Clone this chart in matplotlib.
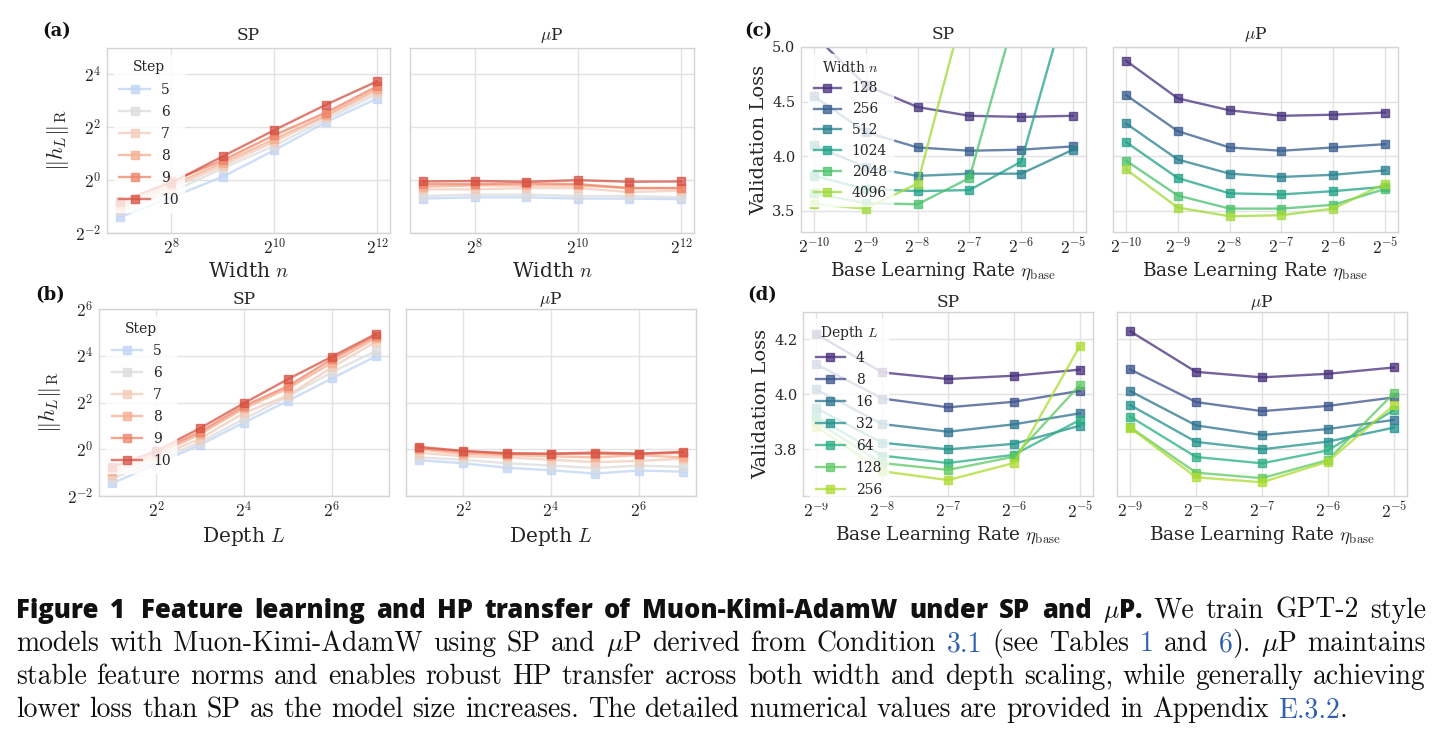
import numpy as np
import matplotlib
matplotlib.use("Agg")
import matplotlib.pyplot as plt
from matplotlib.ticker import FixedLocator, FuncFormatter

plt.rcParams.update({
    "font.family": "serif",
    "font.serif": ["DejaVu Serif"],
    "mathtext.fontset": "cm",
    "axes.formatter.use_mathtext": True,
})

W, H = 1442, 738

# ---------------- data ----------------
steps = ["5", "6", "7", "8", "9", "10"]
widths = [128, 256, 512, 1024, 2048, 4096]
depths = [2, 4, 8, 16, 32, 64, 128]
width_labels = ["128", "256", "512", "1024", "2048", "4096"]
depth_labels = ["4", "8", "16", "32", "64", "128", "256"]
lr_width = [2**-10, 2**-9, 2**-8, 2**-7, 2**-6, 2**-5]
lr_depth = [2**-9, 2**-8, 2**-7, 2**-6, 2**-5]

# (a) feature norm vs width, rows = steps 5..10
norm_width_sp = [
    [0.379, 0.637, 1.094, 2.188, 4.56, 8.51],
    [0.451, 0.732, 1.366, 2.46, 4.92, 9.51],
    [0.483, 0.812, 1.464, 2.73, 5.28, 10.2],
    [0.518, 0.871, 1.569, 2.93, 5.46, 10.93],
    [0.555, 0.966, 1.682, 3.25, 5.86, 11.71],
    [0.574, 0.933, 1.866, 3.71, 7.21, 13.36],
]
norm_width_mup = [
    [0.616, 0.637, 0.637, 0.616, 0.616, 0.607],
    [0.660, 0.683, 0.683, 0.660, 0.660, 0.637],
    [0.785, 0.785, 0.812, 0.812, 0.732, 0.758],
    [0.841, 0.871, 0.871, 0.871, 0.812, 0.812],
    [0.901, 0.901, 0.920, 0.901, 0.812, 0.812],
    [0.966, 0.979, 0.959, 1.000, 0.959, 0.966],
]
# (b) feature norm vs depth
norm_depth_sp = [
    [0.364, 0.642, 1.141, 2.204, 4.20, 8.17, 15.67],
    [0.420, 0.707, 1.231, 2.462, 4.757, 9.85, 18.38],
    [0.467, 0.785, 1.366, 2.928, 4.925, 11.31, 24.25],
    [0.518, 0.841, 1.569, 3.364, 6.063, 13.0, 26.9],
    [0.574, 0.901, 1.682, 3.605, 6.498, 14.42, 28.84],
    [0.595, 0.953, 1.866, 3.918, 8.0, 15.56, 30.48],
]
norm_depth_mup = [
    [0.722, 0.660, 0.578, 0.536, 0.486, 0.532, 0.514],
    [0.785, 0.732, 0.660, 0.616, 0.574, 0.616, 0.595],
    [0.901, 0.812, 0.785, 0.732, 0.683, 0.707, 0.758],
    [1.000, 0.871, 0.841, 0.812, 0.785, 0.841, 0.785],
    [1.035, 0.933, 0.871, 0.871, 0.871, 0.871, 0.901],
    [1.072, 0.953, 0.889, 0.877, 0.908, 0.877, 0.927],
]
# (c) validation loss vs LR, rows = widths
loss_width_sp = [
    [5.11, 4.65, 4.45, 4.37, 4.36, 4.37],
    [4.55, 4.22, 4.08, 4.05, 4.06, 4.09],
    [4.10, 3.90, 3.82, 3.84, 3.84, 4.06],
    [3.82, 3.70, 3.68, 3.69, 3.95, 5.62],
    [3.66, 3.57, 3.56, 3.80, 5.49, 7.20],
    [3.56, 3.52, 3.75, 5.55, 7.40, 9.00],
]
loss_width_mup = [
    [4.875, 4.53, 4.42, 4.37, 4.38, 4.40],
    [4.56, 4.23, 4.08, 4.05, 4.08, 4.11],
    [4.30, 3.97, 3.84, 3.81, 3.83, 3.87],
    [4.13, 3.80, 3.66, 3.65, 3.68, 3.72],
    [3.96, 3.64, 3.52, 3.52, 3.555, 3.70],
    [3.88, 3.53, 3.45, 3.46, 3.52, 3.75],
]
# (d) validation loss vs LR, rows = depths
loss_depth_sp = [
    [4.22, 4.08, 4.056, 4.068, 4.09],
    [4.11, 3.985, 3.953, 3.973, 4.013],
    [4.018, 3.892, 3.864, 3.891, 3.931],
    [3.95, 3.824, 3.80, 3.82, 3.886],
    [3.92, 3.777, 3.75, 3.78, 3.907],
    [3.90, 3.75, 3.725, 3.773, 4.034],
    [3.883, 3.72, 3.688, 3.75, 4.176],
]
loss_depth_mup = [
    [4.23, 4.082, 4.062, 4.075, 4.098],
    [4.091, 3.972, 3.939, 3.958, 3.989],
    [4.012, 3.887, 3.852, 3.874, 3.907],
    [3.961, 3.827, 3.80, 3.828, 3.879],
    [3.919, 3.772, 3.749, 3.796, 3.943],
    [3.88, 3.715, 3.695, 3.761, 4.004],
    [3.878, 3.698, 3.68, 3.755, 3.961],
]

# ---------------- styling ----------------
step_colors = plt.cm.coolwarm(np.linspace(0.4, 0.9, 6))
width_colors = plt.cm.viridis(np.linspace(0, 1, 8)[1:-1])
depth_colors = plt.cm.viridis(np.linspace(0, 1, 9)[1:-1])
TXT = "#262626"
POW_FS = 12.5
LIN_FS = 10.5
LABEL_AB = 14.5
LABEL_CD = 13.3
NORM_FS = 16
TITLE_FS = 12.3
LEG_FS = 10

fig = plt.figure(figsize=(W / 100, H / 100), dpi=100)
fig.patch.set_facecolor("white")


def add_ax(x0, y0, x1, y1, sharey=None):
    ax = fig.add_axes([x0 / W, 1 - y1 / H, (x1 - x0) / W, (y1 - y0) / H], sharey=sharey)
    ax.set_facecolor("white")
    for s in ax.spines.values():
        s.set_color("#d4d4d4")
        s.set_linewidth(1.0)
    ax.grid(True, color="#e2e2e2", lw=1.0)
    ax.set_axisbelow(True)
    ax.tick_params(length=0, colors=TXT, pad=4)
    return ax


def plot_series(ax, x, ys, labels, colors):
    for y, lab, c in zip(ys, labels, colors):
        ax.plot(x, y, marker="s", ms=5.8, mew=1.0, lw=1.7, color=c, alpha=0.75, label=lab)


pow2_fmt = FuncFormatter(lambda v, _: r"$2^{%d}$" % int(round(np.log2(v))))


def set_pow2(ax, which, exps):
    axis = ax.xaxis if which == "x" else ax.yaxis
    axis.set_major_locator(FixedLocator([2.0 ** e for e in exps]))
    axis.set_major_formatter(pow2_fmt)
    axis.set_minor_locator(FixedLocator([]))
    ax.tick_params(axis=which, labelsize=POW_FS)


def set_lin(ax, vals):
    ax.yaxis.set_major_locator(FixedLocator(vals))
    ax.yaxis.set_major_formatter(FuncFormatter(lambda v, _: "%.1f" % v))
    ax.tick_params(axis="y", labelsize=LIN_FS)


def legend(ax, title, spacing, hl):
    lg = ax.legend(title=title, loc="upper left", fontsize=LEG_FS, title_fontsize=LEG_FS,
                   frameon=True, framealpha=0.8, edgecolor="white", facecolor="white",
                   labelspacing=spacing, handlelength=hl, handletextpad=0.8,
                   borderpad=0.4, borderaxespad=0.5)
    for t in lg.get_texts():
        t.set_color(TXT)
    lg.get_title().set_color(TXT)
    return lg


norm_label = r"$\Vert h_L\Vert_{\mathrm{R}}$"
lr_label = r"Base Learning Rate $\eta_{\mathrm{base}}$"

# ---- (a) ----
a1 = add_ax(107, 48, 390, 233)
a2 = add_ax(410, 48, 694, 233, sharey=a1)
for ax, data in ((a1, norm_width_sp), (a2, norm_width_mup)):
    ax.set_xscale("log", base=2)
    ax.set_yscale("log", base=2)
    plot_series(ax, widths, data, steps, step_colors)
    set_pow2(ax, "x", [8, 10, 12])
    set_pow2(ax, "y", [-2, 0, 2, 4])
    ax.set_xlim(2 ** 6.75, 2 ** 12.25)
    ax.set_ylim(2 ** -2, 2 ** 5)
    ax.set_xlabel(r"Width $n$", fontsize=LABEL_AB, color=TXT, labelpad=2)
a1.set_title("SP", fontsize=TITLE_FS, color=TXT, pad=6)
a2.set_title(r"$\mu$P", fontsize=TITLE_FS, color=TXT, pad=6)
a1.set_ylabel(norm_label, fontsize=NORM_FS, color=TXT, labelpad=3)
a2.tick_params(labelleft=False)
legend(a1, "Step", 0.58, 2.2)

# ---- (b) ----
b1 = add_ax(99, 309, 389, 496)
b2 = add_ax(406, 309, 696, 496, sharey=b1)
for ax, data in ((b1, norm_depth_sp), (b2, norm_depth_mup)):
    ax.set_xscale("log", base=2)
    ax.set_yscale("log", base=2)
    plot_series(ax, depths, data, steps, step_colors)
    set_pow2(ax, "x", [2, 4, 6])
    set_pow2(ax, "y", [-2, 0, 2, 4, 6])
    ax.set_xlim(2 ** 0.7, 2 ** 7.3)
    ax.set_ylim(2 ** -2, 2 ** 6)
    ax.set_xlabel(r"Depth $L$", fontsize=LABEL_AB, color=TXT, labelpad=2)
b1.set_title("SP", fontsize=TITLE_FS, color=TXT, pad=3.5)
b2.set_title(r"$\mu$P", fontsize=TITLE_FS, color=TXT, pad=3.5)
b1.set_ylabel(norm_label, fontsize=NORM_FS, color=TXT, labelpad=3)
b2.tick_params(labelleft=False)
legend(b1, "Step", 0.58, 2.2)

# ---- (c) ----
c1 = add_ax(801, 47, 1086, 232)
c2 = add_ax(1113, 47, 1398, 232, sharey=c1)
for ax, data in ((c1, loss_width_sp), (c2, loss_width_mup)):
    ax.set_xscale("log", base=2)
    plot_series(ax, lr_width, data, width_labels, width_colors)
    set_pow2(ax, "x", [-10, -9, -8, -7, -6, -5])
    ax.set_xlim(2 ** -10.25, 2 ** -4.75)
    ax.set_ylim(3.306, 5.0)
    set_lin(ax, [3.5, 4.0, 4.5, 5.0])
    ax.set_xlabel(lr_label, fontsize=LABEL_CD, color=TXT, labelpad=2)
c1.set_title("SP", fontsize=TITLE_FS, color=TXT, pad=6)
c2.set_title(r"$\mu$P", fontsize=TITLE_FS, color=TXT, pad=6)
c1.set_ylabel("Validation Loss", fontsize=LABEL_CD + 0.7, color=TXT, labelpad=3)
c2.tick_params(labelleft=False)
legend(c1, r"Width $n$", 0.5, 1.95)

# ---- (d) ----
d1 = add_ax(803, 312, 1093, 496)
d2 = add_ax(1117, 312, 1407, 496, sharey=d1)
for ax, data in ((d1, loss_depth_sp), (d2, loss_depth_mup)):
    ax.set_xscale("log", base=2)
    plot_series(ax, lr_depth, data, depth_labels, depth_colors)
    set_pow2(ax, "x", [-9, -8, -7, -6, -5])
    ax.set_xlim(2 ** -9.2, 2 ** -4.8)
    ax.set_ylim(3.63, 4.30)
    set_lin(ax, [3.8, 4.0, 4.2])
    ax.set_xlabel(lr_label, fontsize=LABEL_CD, color=TXT, labelpad=2)
d1.set_title("SP", fontsize=TITLE_FS, color=TXT, pad=3.5)
d2.set_title(r"$\mu$P", fontsize=TITLE_FS, color=TXT, pad=3.5)
d1.set_ylabel("Validation Loss", fontsize=LABEL_CD + 0.7, color=TXT, labelpad=3)
d2.tick_params(labelleft=False)
legend(d1, r"Depth $L$", 0.58, 2.1)

# panel letters
for lab, x, y in (("(a)", 42, 31), ("(b)", 35, 295), ("(c)", 744, 31), ("(d)", 747, 295)):
    fig.text(x / W, 1 - y / H, lab, family="DejaVu Serif", weight="bold", fontsize=13,
             color="#111111", ha="left", va="center")

# ---------------- caption (justified) ----------------
renderer = fig.canvas.get_renderer()
SERIF = 17.0
BOLD = 16.5
LEFT, RIGHT = 16, 1426
BOLD_END = 1083
BLUE = "#2f5fb3"


def style(st):
    if st == "b":
        return dict(family="Open Sans", weight="heavy", fontsize=BOLD, color="#111111")
    if st == "l":
        return dict(family="cmr10", fontsize=SERIF, color=BLUE)
    return dict(family="cmr10", fontsize=SERIF, color="#111111")


def words(text, st):
    return [[(w, st)] for w in text.split(" ")]


mu = r"$\mu$P"
bold_words = words("Figure 1", "b") + words(
    "Feature learning and HP transfer of Muon-Kimi-AdamW under SP and", "b") + [[(mu + ".", "b")]]
lines = [
    bold_words + words("We train GPT-2 style", "r"),
    words("models with Muon-Kimi-AdamW using SP and", "r") + [[(mu, "r")]]
    + words("derived from Condition", "r") + [[("3.1", "l")]] + words("(see Tables", "r")
    + [[("1", "l")]] + words("and", "r") + [[("6", "l"), (").", "r")]] + [[(mu, "r")]]
    + words("maintains", "r"),
    words("stable feature norms and enables robust HP transfer across both width and depth scaling, while generally achieving", "r"),
    words("lower loss than SP as the model size increases. The detailed numerical values are provided in Appendix", "r")
    + [[("E.3.2", "l"), (".", "r")]],
]
baselines = [618, 651, 684, 717]
EXTRA = 0.4  # extra gap after "Figure 1" in units of the space


def measure(t):
    return t.get_window_extent(renderer).width


def natural_width(ws, st):
    probe = [fig.text(0, 0, "".join(s[0] for s in w), **style(st)) for w in ws]
    a = fig.text(0, 0, "a a", **style(st))
    b = fig.text(0, 0, "aa", **style(st))
    sp = measure(a) - measure(b)
    tot = sum(measure(t) for t in probe)
    for t in probe + [a, b]:
        t.remove()
    return tot, sp


# auto-fit serif size with the natural width of the last line
tot, sp = natural_width(lines[3], "r")
k = (1347 - LEFT) / (tot + sp * (len(lines[3]) - 1))
SERIF *= k
serif_space = sp * k
# auto-fit bold size so that the bold lead-in ends where it does in the reference
tot, sp = natural_width(bold_words, "b")
k = (BOLD_END - LEFT) / (tot + sp * (len(bold_words) - 1 + EXTRA))
BOLD *= k

for li, (line, base) in enumerate(zip(lines, baselines)):
    arts = []
    widths_w = []
    for w in line:
        segs = []
        for txt, st in w:
            t = fig.text(0, 1 - base / H, txt, va="baseline", ha="left", **style(st))
            segs.append((t, measure(t)))
        arts.append(segs)
        widths_w.append(sum(s[1] for s in segs))
    if li < len(lines) - 1:
        extra_units = EXTRA if li == 0 else 0.0
        gap = (RIGHT - LEFT - sum(widths_w)) / (len(line) - 1 + extra_units)
    else:
        gap = serif_space
    x = LEFT
    for i, segs in enumerate(arts):
        cx = x
        for t, wpx in segs:
            t.set_x(cx / W)
            cx += wpx
        x += widths_w[i] + gap + (gap * EXTRA if (li == 0 and i == 1) else 0)

fig.savefig("out.png", dpi=100, facecolor="white")
